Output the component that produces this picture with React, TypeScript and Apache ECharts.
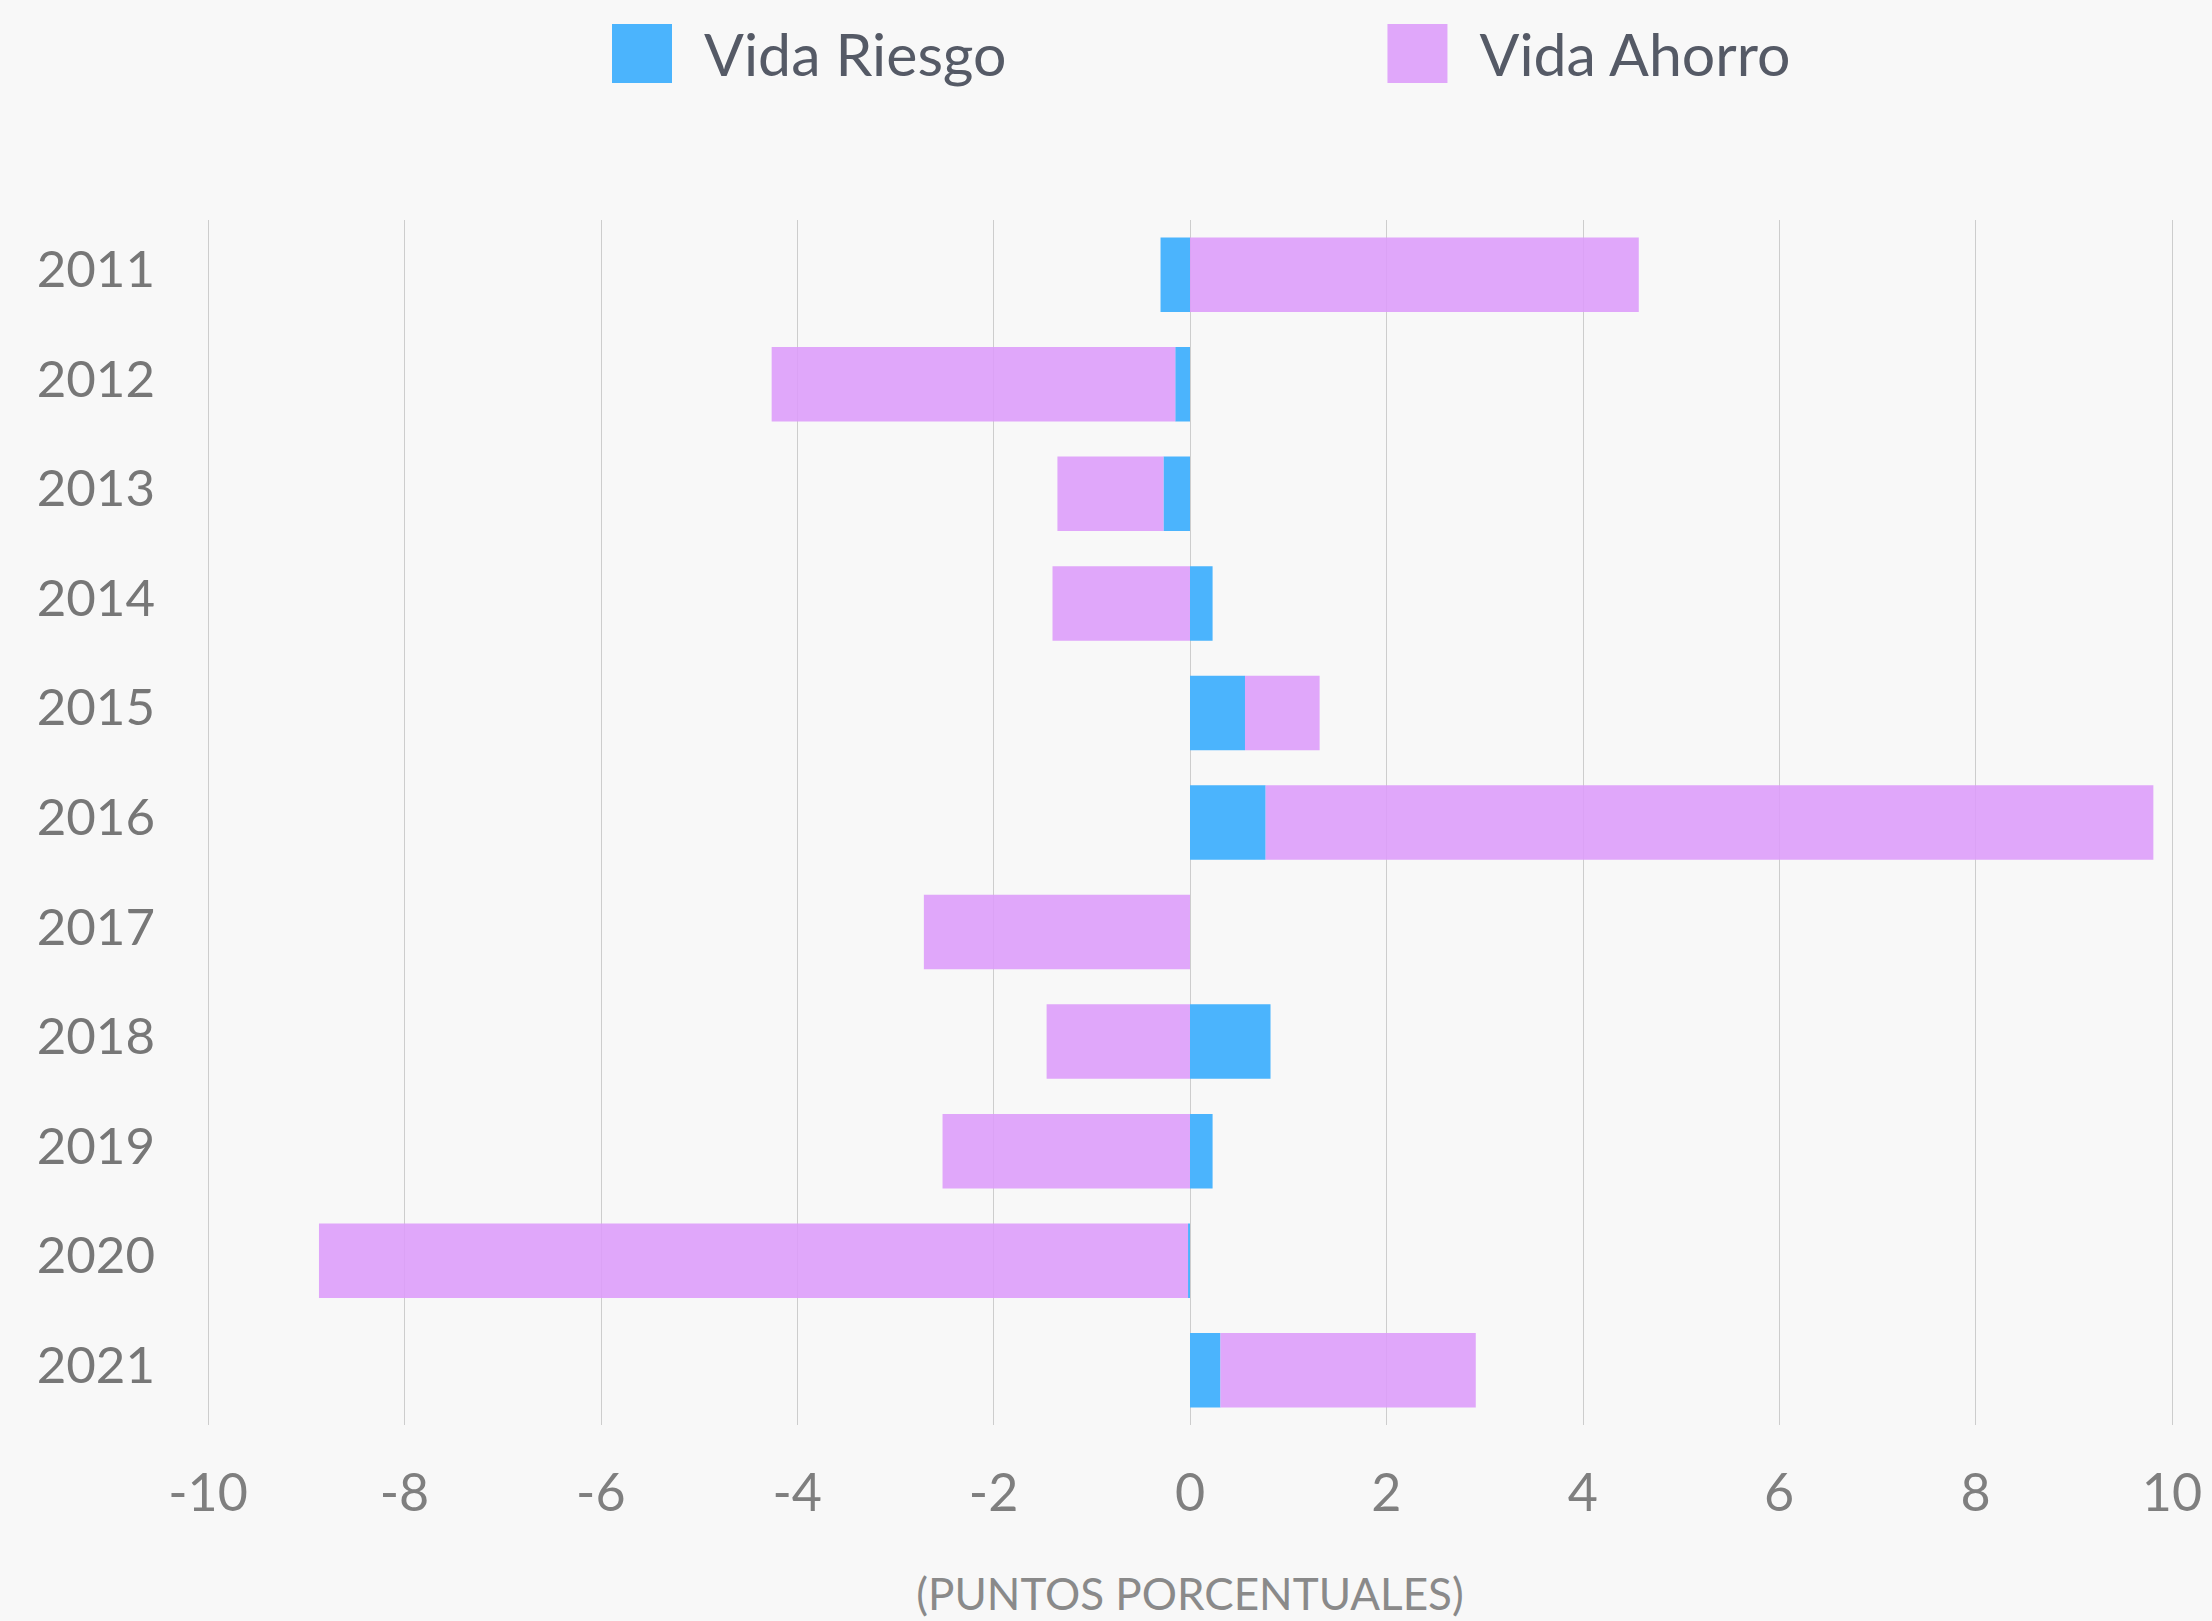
import React, { useEffect, useRef } from "react";
import * as echarts from "echarts";

const years = ["2011", "2012", "2013", "2014", "2015", "2016", "2017", "2018", "2019", "2020", "2021"];
const vidaRiesgo = [-0.3, -0.15, -0.27, 0.23, 0.56, 0.77, 0, 0.82, 0.23, -0.02, 0.31];
const vidaAhorro = [4.57, -4.11, -1.08, -1.4, 0.76, 9.04, -2.71, -1.46, -2.52, -8.85, 2.6];
const seriesNames = ["Vida Riesgo", "Vida Ahorro"];
const axisName = "(PUNTOS PORCENTUALES)";

export default function App() {
  const ref = useRef<HTMLDivElement>(null);
  useEffect(() => {
    document.body.style.margin = "0";
    document.body.style.background = "#F8F8F8";
    const chart = echarts.init(ref.current!, null, { renderer: "svg" });
    chart.setOption({
      animation: false,
      backgroundColor: "#F8F8F8",
      textStyle: { fontFamily: "Lato" },
      legend: {
        top: 19,
        left: 607,
        itemWidth: 60,
        itemHeight: 59,
        itemGap: 381,
        icon: "rect",
        textStyle: { fontSize: 59, color: "#555A66", fontFamily: "Lato", padding: [0, 0, 0, 27] },
        data: seriesNames,
      },
      grid: { left: 208, right: 40, top: 220, bottom: 196 },
      xAxis: {
        type: "value",
        min: -10,
        max: 10,
        interval: 2,
        axisLine: { show: false },
        axisTick: { show: false },
        splitLine: { lineStyle: { color: "#CDCDCD", width: 1 } },
        axisLabel: { fontSize: 52, color: "#7F7F7F", margin: 40, fontFamily: "Lato" },
        name: axisName,
        nameLocation: "middle",
        nameGap: 146,
        nameTextStyle: { fontSize: 44, color: "#8A8A8A", fontFamily: "Lato" },
      },
      yAxis: {
        type: "category",
        inverse: true,
        data: years,
        axisLine: { show: false },
        axisTick: { show: false },
        splitLine: { show: false },
        axisLabel: {
          margin: 53,
          formatter: (v: string) => `{y|${v}}`,
          rich: {
            y: { fontSize: 51, color: "#777777", fontFamily: "Lato", padding: [0, 0, 14, 0] },
          },
        },
      },
      series: [
        {
          name: seriesNames[0],
          type: "bar",
          stack: "total",
          barWidth: "68%",
          data: vidaRiesgo,
          itemStyle: { color: "#4BB4FD" },
        },
        {
          name: seriesNames[1],
          type: "bar",
          stack: "total",
          barWidth: "68%",
          data: vidaAhorro,
          itemStyle: { color: "#DD9DFA", opacity: 0.9 },
        },
      ],
    });
    return () => chart.dispose();
  }, []);
  return <div ref={ref} style={{ width: 2212, height: 1621 }} />;
}
